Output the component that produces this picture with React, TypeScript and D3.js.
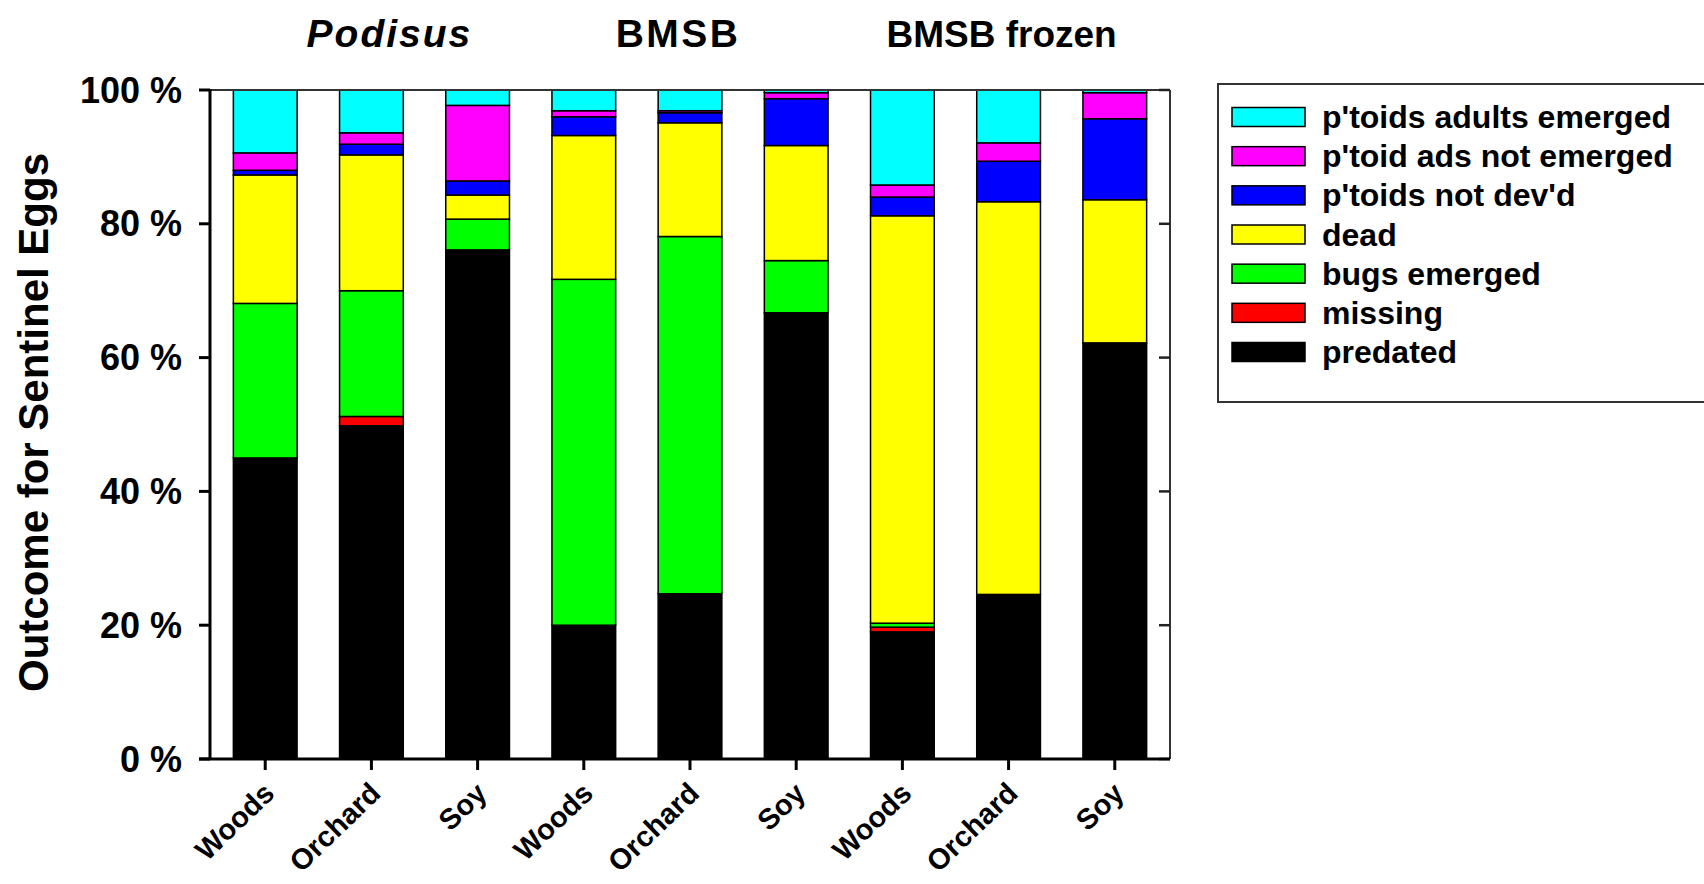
import * as d3 from "d3";

// categories along the x axis (three sites per egg type)
const sites = ["Woods", "Orchard", "Soy", "Woods", "Orchard", "Soy", "Woods", "Orchard", "Soy"];
const groups = ["Podisus", "BMSB", "BMSB frozen"];

// outcome percentages, bottom to top of each bar
const predated = [45.0, 49.8, 76.1, 20.0, 24.7, 66.7, 19.0, 24.6, 62.2];
const missing = [0, 1.4, 0, 0, 0, 0, 0.7, 0, 0];
const bugsEmerged = [23.1, 18.8, 4.6, 51.7, 53.4, 7.8, 0.6, 0, 0];
const dead = [19.2, 20.3, 3.6, 21.5, 17.0, 17.2, 60.9, 58.7, 21.4];
const notDevd = [0.7, 1.6, 2.1, 2.8, 1.5, 7.0, 2.8, 6.05, 12.1];
const adsNotEmerged = [2.6, 1.7, 11.3, 0.9, 0.3, 0.9, 1.8, 2.75, 3.9];
const adultsEmerged = [9.4, 6.4, 2.3, 3.1, 3.1, 0.4, 14.2, 7.9, 0.4];

const seriesKeys = ["predated", "missing", "bugs", "dead", "notdev", "adsnot", "adults"];
const seriesValues = [predated, missing, bugsEmerged, dead, notDevd, adsNotEmerged, adultsEmerged];
const seriesLabels = ["predated", "missing", "bugs emerged", "dead", "p'toids not dev'd", "p'toid ads not emerged", "p'toids adults emerged"];
const seriesColors = ["#000000", "#ff0000", "#00ff00", "#ffff00", "#0000ff", "#ff00ff", "#00ffff"];

const yTicks = [0, 20, 40, 60, 80, 100];

const W = 1704;
const H = 884;
const FONT = "'Liberation Sans', Arial, sans-serif";

export default function App() {
  const left = 210, right = 1170, top = 90, bottom = 759;

  const rows = sites.map((_, i) => {
    const r: any = { idx: i };
    seriesKeys.forEach((k, j) => (r[k] = seriesValues[j][i]));
    return r;
  });
  const stacked = d3.stack().keys(seriesKeys)(rows);

  const x = d3.scaleBand<number>()
    .domain(sites.map((_, i) => i))
    .range([left, right])
    .paddingInner(0.4)
    .paddingOuter(0.22);
  const y = d3.scaleLinear([0, 100], [bottom, top]);
  const bw = x.bandwidth();

  const legendY = d3.scalePoint<string>()
    .domain([...seriesKeys].reverse())
    .range([117, 352]);

  // title tweaks to follow the original's hand placement
  const titleOffsets = [18, -12, -7];
  const titleSizes = [39, 39, 37];
  const titleSpacing = [2, 2.4, 0];

  return (
    <svg width={W} height={H} style={{ position: "absolute", left: 0, top: 0, background: "#fff" }} fontFamily={FONT}>
      {/* group titles */}
      {groups.map((g, gi) => (
        <text
          key={g}
          x={x(gi * 3 + 1)! + bw / 2 + titleOffsets[gi]}
          y={47}
          textAnchor="middle"
          fontSize={titleSizes[gi]}
          letterSpacing={titleSpacing[gi]}
          fontWeight="bold"
          fontStyle={gi === 0 ? "italic" : "normal"}
        >
          {g}
        </text>
      ))}

      {/* bars */}
      {stacked.map((s, si) => (
        <g key={s.key} fill={seriesColors[si]} stroke="#000" strokeWidth={1.5}>
          {s.map((d, i) =>
            d[1] - d[0] > 0 ? (
              <rect key={i} x={x(i)} y={y(d[1])} width={bw} height={y(d[0]) - y(d[1])} />
            ) : null
          )}
        </g>
      ))}

      {/* frame top & right */}
      <line x1={left} x2={right} y1={top} y2={top} stroke="#333" strokeWidth={2} />
      <line x1={right} x2={right} y1={top} y2={bottom} stroke="#333" strokeWidth={2} />
      {yTicks.map(t => (
        <line key={"r" + t} x1={right - 11} x2={right} y1={y(t)} y2={y(t)} stroke="#222" strokeWidth={2.5} />
      ))}

      {/* left axis */}
      <line x1={left} x2={left} y1={top - 1} y2={bottom + 1} stroke="#000" strokeWidth={3} />
      {yTicks.map(t => (
        <g key={t}>
          <line x1={left - 11} x2={left} y1={y(t)} y2={y(t)} stroke="#000" strokeWidth={3} />
          <text x={182} y={y(t)} textAnchor="end" dominantBaseline="central" fontSize={36} fontWeight="bold">
            {t} %
          </text>
        </g>
      ))}

      {/* bottom axis */}
      <line x1={left - 11} x2={right} y1={bottom} y2={bottom} stroke="#000" strokeWidth={3} />
      {sites.map((s, i) => {
        const cx = x(i)! + bw / 2;
        return (
          <g key={i}>
            <line x1={cx} x2={cx} y1={bottom} y2={bottom + 11} stroke="#000" strokeWidth={3} />
            <text
              transform={`translate(${cx + 4},${bottom + 29}) rotate(-44)`}
              textAnchor="end"
              dominantBaseline="central"
              fontSize={29}
              fontWeight="bold"
            >
              {s}
            </text>
          </g>
        );
      })}

      {/* y axis title */}
      <text
        transform={`translate(33,${(top + bottom) / 2 - 2}) rotate(-90)`}
        textAnchor="middle"
        dominantBaseline="central"
        fontSize={42}
        fontWeight="bold"
      >
        Outcome for Sentinel Eggs
      </text>

      {/* legend */}
      <rect x={1218} y={84} width={520} height={318} fill="none" stroke="#333" strokeWidth={2} />
      {seriesKeys.map((k, si) => {
        const cy = legendY(k)!;
        return (
          <g key={k}>
            <rect x={1232} y={cy - 9.5} width={73} height={19} fill={seriesColors[si]} stroke="#000" strokeWidth={1.5} />
            <text x={1322} y={cy} dominantBaseline="central" fontSize={32} fontWeight="bold">
              {seriesLabels[si]}
            </text>
          </g>
        );
      })}
    </svg>
  );
}
